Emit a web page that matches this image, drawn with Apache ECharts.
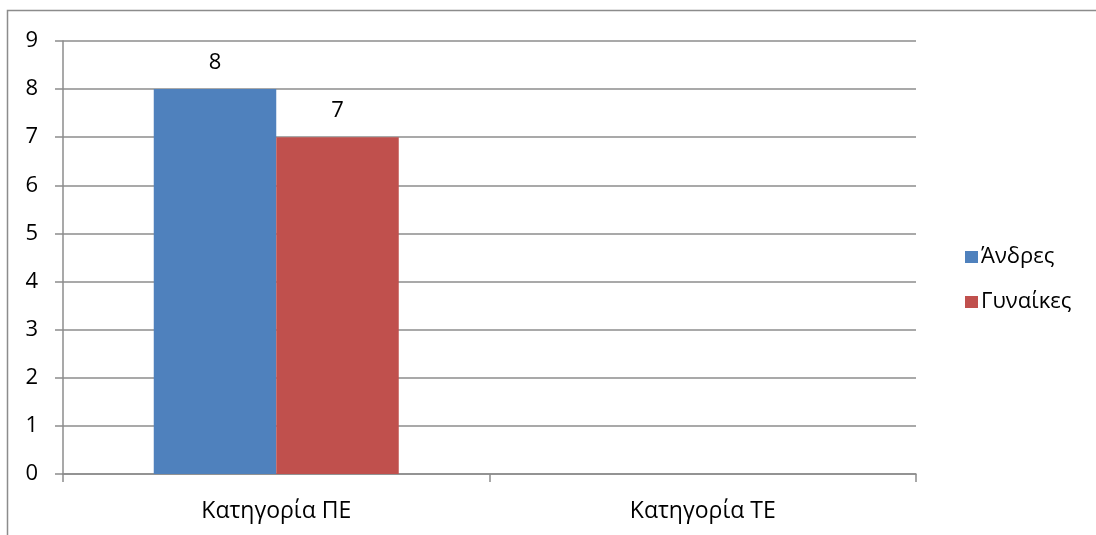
<!DOCTYPE html>
<html>
<head>
<meta charset="utf-8">
<script src="https://cdn.jsdelivr.net/npm/echarts@6/dist/echarts.min.js"></script>
<style>
  html, body { margin: 0; padding: 0; background: #fff; }
  #chart { width: 1096px; height: 535px; }
</style>
</head>
<body>
<div id="chart"></div>
<script>
// Categories and counts per group
const categories = ['Κατηγορία ΠΕ', 'Κατηγορία ΤΕ'];
const seriesNames = ['Άνδρες', 'Γυναίκες'];
const andres = [8, null];
const gynaikes = [7, null];
const colors = ['#4F81BD', '#C0504D'];

const FONT = '"Open Sans", "Noto Sans", sans-serif';
const chart = echarts.init(document.getElementById('chart'), null, { renderer: 'canvas' });

const labelOpt = {
  show: true,
  position: 'top',
  distance: 15,
  color: '#000',
  fontSize: 22,
  fontFamily: FONT
};

chart.setOption({
  animation: false,
  backgroundColor: '#fff',
  textStyle: { fontFamily: FONT },
  graphic: [{
    type: 'rect',
    shape: { x: 7.5, y: 10.5, width: 1200, height: 700 },
    style: { fill: 'none', stroke: '#8c8c8c', lineWidth: 1.5 },
    silent: true,
    z: -1
  }],
  grid: { left: 63, right: 180, top: 41, bottom: 61, containLabel: false },
  legend: {
    orient: 'vertical',
    left: 960,
    top: 241,
    itemWidth: 13,
    itemHeight: 12,
    itemGap: 23,
    icon: 'rect',
    textStyle: { fontSize: 22, color: '#000', fontFamily: FONT, padding: [0, 0, 0, -2] },
    data: seriesNames
  },
  xAxis: {
    type: 'category',
    data: categories,
    axisLine: { lineStyle: { color: '#8c8c8c', width: 1.5 } },
    axisTick: { show: true, length: 8, lineStyle: { color: '#8c8c8c', width: 1.5 } },
    axisLabel: { fontSize: 23, color: '#000', margin: 26, fontFamily: FONT },
    splitLine: { show: false }
  },
  yAxis: {
    type: 'value',
    min: 0,
    max: 9,
    interval: 1,
    axisLine: { show: true, lineStyle: { color: '#8c8c8c', width: 1.5 } },
    axisTick: { show: true, length: 8, lineStyle: { color: '#8c8c8c', width: 1.5 } },
    axisLabel: { fontSize: 22, color: '#000', margin: 25, fontFamily: FONT },
    splitLine: { show: true, lineStyle: { color: '#8c8c8c', width: 1.5 } }
  },
  series: [
    {
      name: seriesNames[0],
      type: 'bar',
      data: andres,
      barWidth: 122.5,
      barGap: '0%',
      itemStyle: { color: colors[0] },
      label: labelOpt
    },
    {
      name: seriesNames[1],
      type: 'bar',
      data: gynaikes,
      barWidth: 122.5,
      barGap: '0%',
      itemStyle: { color: colors[1] },
      label: labelOpt
    }
  ]
});
</script>
</body>
</html>
